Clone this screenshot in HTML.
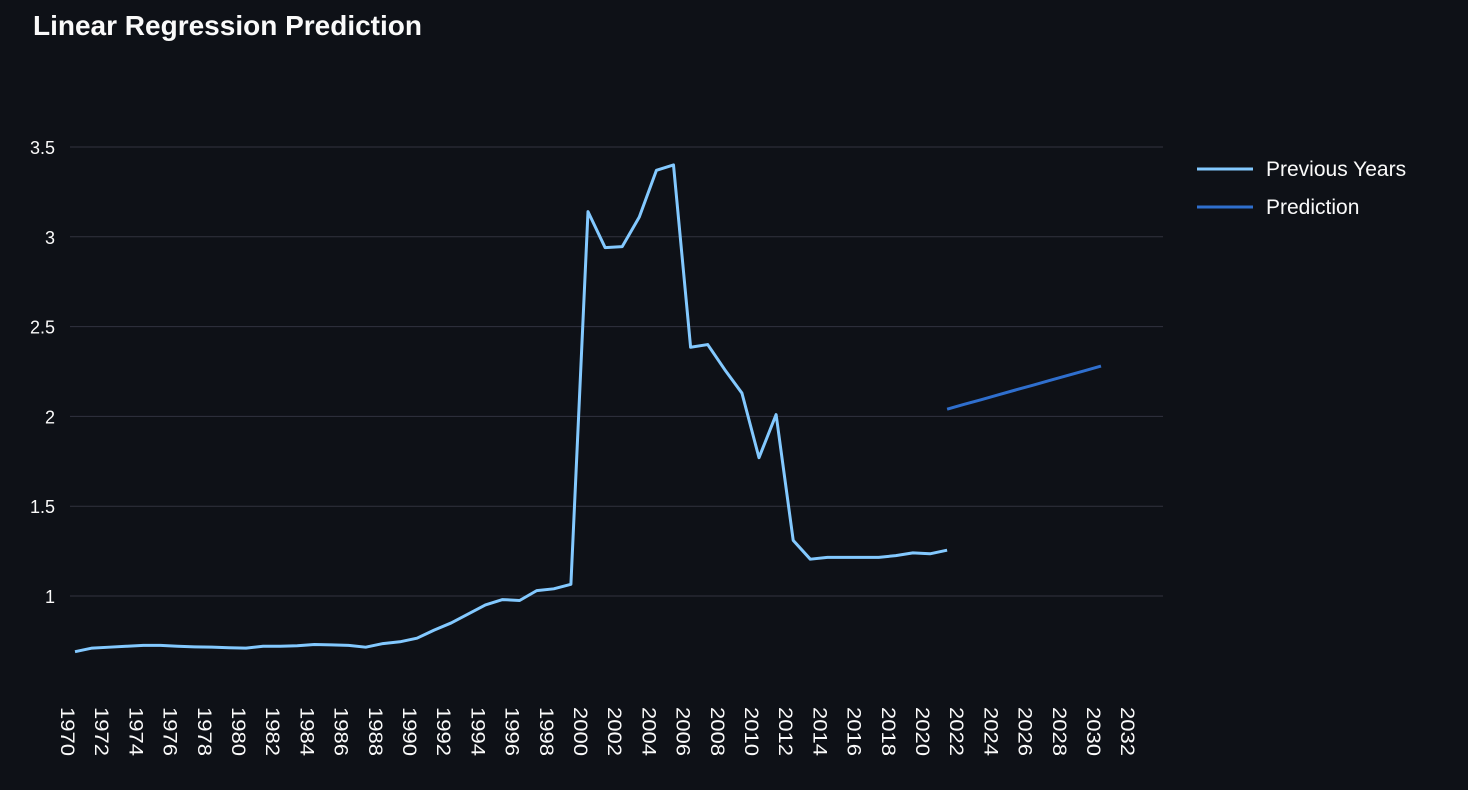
<!DOCTYPE html>
<html><head><meta charset="utf-8">
<style>
body{margin:0;background:#0e1117;width:1468px;height:790px;overflow:hidden;font-family:"Liberation Sans",sans-serif;}
h1{position:absolute;left:33px;top:10px;margin:0;color:#fafafa;font-size:28px;font-weight:bold;}
</style></head><body>
<h1>Linear Regression Prediction</h1>
<svg id="c" width="1468" height="790" style="position:absolute;left:0;top:0"></svg>
<script>
const years = [];
for (let y = 1970; y <= 2021; y++) years.push(y);
const previousValues = [0.69,0.71,0.715,0.72,0.725,0.725,0.72,0.717,0.715,0.712,0.71,0.72,0.72,0.723,0.73,0.728,0.725,0.715,0.735,0.745,0.765,0.81,0.85,0.90,0.95,0.98,0.975,1.03,1.04,1.065,3.14,2.94,2.945,3.11,3.37,3.40,2.385,2.40,2.26,2.13,1.77,2.01,1.31,1.205,1.215,1.215,1.215,1.215,1.225,1.24,1.235,1.255];
const predYears = [2021,2022,2023,2024,2025,2026,2027,2028,2029,2030];
const predValues = [2.04,2.067,2.093,2.12,2.147,2.173,2.2,2.227,2.253,2.28];
const yTicks = [1,1.5,2,2.5,3,3.5];
const yTickLabels = ["1","1.5","2","2.5","3","3.5"];
const xTicks = [];
for (let y = 1970; y <= 2032; y += 2) xTicks.push(y);

const NS = "http://www.w3.org/2000/svg";
const svg = document.getElementById('c');
const xs = y => 75 + (y - 1970) * 17.1;
const ys = v => 596 - (v - 1) * 179.6;
function mk(t, a){const e=document.createElementNS(NS,t);for(const k in a)e.setAttribute(k,a[k]);svg.appendChild(e);return e;}

yTicks.forEach((v,i)=>{
  const g = mk('line',{x1:70,x2:1163,y1:ys(v),y2:ys(v),stroke:'#31333f','stroke-width':1});
  
  
  const t = mk('text',{x:55,y:ys(v)+7,'text-anchor':'end',fill:'#fafafa','font-size':18,'font-family':'Liberation Sans, sans-serif'});
  t.textContent = yTickLabels[i];
  
  
});
xTicks.forEach(y=>{
  const x = xs(y) - 7;
  const t = mk('text',{x:0,y:0,transform:`translate(${x-7},707) rotate(90)`,fill:'#fafafa','font-size':19,'font-family':'Liberation Sans, sans-serif','textLength':49,'lengthAdjust':'spacingAndGlyphs'});
  t.textContent = y;
  
  
});
const p1 = mk('polyline',{points:years.map((y,i)=>xs(y)+','+ys(previousValues[i])).join(' '),fill:'none',stroke:'#83c9ff','stroke-width':3,'stroke-linejoin':'round'});


const p2 = mk('polyline',{points:predYears.map((y,i)=>xs(y)+','+ys(predValues[i])).join(' '),fill:'none',stroke:'#2f6fce','stroke-width':3});



[['Previous Years','#83c9ff',169],['Prediction','#2f6fce',207]].forEach(([n,c,y])=>{
  const l = mk('line',{x1:1197,x2:1253,y1:y,y2:y,stroke:c,'stroke-width':3});
  
  
  const t = mk('text',{x:1266,y:y+7,fill:'#fafafa','font-size':21,'font-family':'Liberation Sans, sans-serif'});
  t.textContent = n;
  
  
});
</script>
</body></html>
